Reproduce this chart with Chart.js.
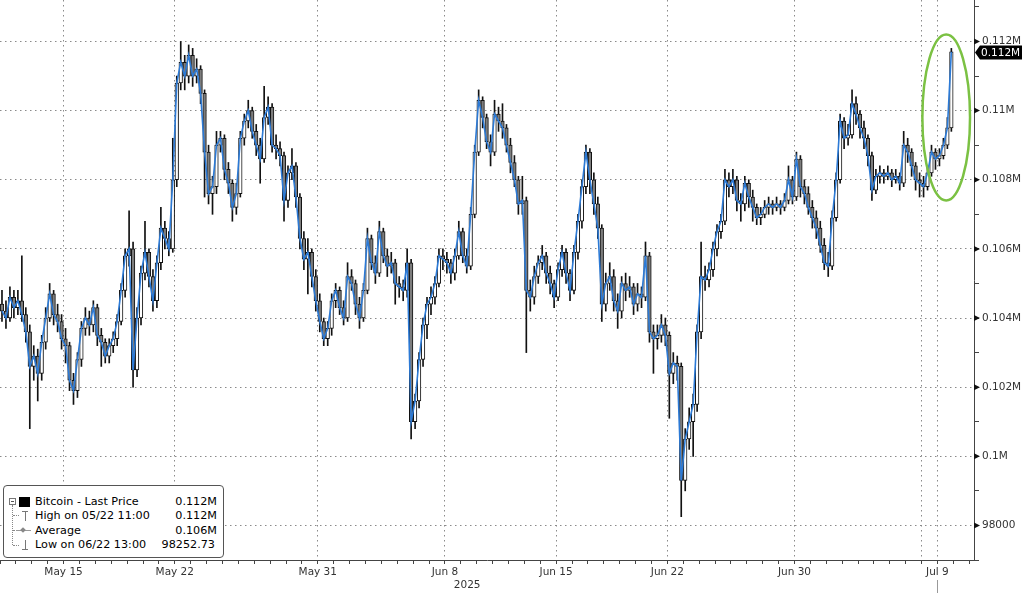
<!DOCTYPE html>
<html>
<head>
<meta charset="utf-8">
<script src="https://cdn.jsdelivr.net/npm/chart.js@4.4.1/dist/chart.umd.min.js"></script>
<style>
  html, body { margin: 0; padding: 0; background: #fff; }
  #wrap { position: relative; width: 1024px; height: 593px; overflow: hidden; font-family: "DejaVu Sans", sans-serif; }
  #chart { position: absolute; left: 0; top: 0; }
  .legend { position: absolute; left: 3px; top: 485px; width: 219px; height: 71px; border: 1px solid #555; border-radius: 4px; background: #fff; font-size: 11.2px; color: #000; }
  .row { position: absolute; left: 0; width: 100%; height: 14px; line-height: 14px; white-space: nowrap; }
  .row .lbl { position: absolute; left: 31px; }
  .row .val { position: absolute; right: 6px; }
  .minus { position: absolute; left: 5px; top: 12px; width: 5px; height: 5px; border: 1px solid #777; }
  .minus::after { content: ""; position: absolute; left: 1px; top: 2px; width: 3px; height: 1px; background: #555; }
  .sq { position: absolute; left: 15px; top: 11px; width: 11px; height: 10px; background: #000; }
  .tree { position: absolute; left: 8px; top: 19px; height: 40px; border-left: 1px dotted #888; }
  .stub { position: absolute; left: 9px; width: 6px; border-top: 1px dotted #888; }
  .tee { position: absolute; left: 18px; width: 6px; height: 10px; }
  .tee::before { content: ""; position: absolute; left: 0; width: 6px; height: 1px; background: #777; }
  .tee::after { content: ""; position: absolute; left: 2.5px; top: 0; width: 1px; height: 10px; background: #777; }
  .tee.up::before { top: 0; }
  .tee.down::before { bottom: 0; }
  .avg { position: absolute; left: 12px; top: 44px; width: 15px; height: 1px; background: #999; }
  .avg::after { content: ""; position: absolute; left: 5px; top: -2px; width: 4px; height: 4px; background: #888; transform: rotate(45deg); }
</style>
</head>
<body>
<div id="wrap">
  <canvas id="chart" width="1024" height="593"></canvas>
  <div class="legend">
    <div class="minus"></div>
    <div class="sq"></div>
    <div class="tree"></div>
    <div class="stub" style="top:29px"></div>
    <div class="stub" style="top:44px"></div>
    <div class="stub" style="top:59px"></div>
    <div class="tee up" style="top:25px"></div>
    <div class="avg"></div>
    <div class="tee down" style="top:54px"></div>
    <div class="row" style="top:9px"><span class="lbl">Bitcoin - Last Price</span><span class="val">0.112M</span></div>
    <div class="row" style="top:23px"><span class="lbl">High on 05/22 11:00</span><span class="val">0.112M</span></div>
    <div class="row" style="top:38px"><span class="lbl">Average</span><span class="val">0.106M</span></div>
    <div class="row" style="top:52px"><span class="lbl">Low on 06/22 13:00</span><span class="val" style="right:8px">98252.73</span></div>
  </div>
</div>
<script>
// 6-hour bars starting May 11 00:00, prices in thousands USD
const barHours = 6;
const firstOpenK = 104.4;
const closeK = [
  104.2,104.0,104.6,104.3,104.5,104.1,103.6,102.6,102.9,102.4,
  103.3,104.0,104.7,104.1,103.9,103.4,103.2,102.2,101.9,102.8,
  103.7,104.0,103.8,104.3,103.5,103.3,102.9,103.2,103.4,103.9,
  104.8,105.8,106.0,102.5,104.0,105.3,105.9,105.2,104.5,105.6,
  106.6,106.3,106.0,108.0,110.8,111.4,111.0,111.6,111.0,111.2,
  110.5,108.8,107.6,107.8,109.0,109.2,108.3,107.9,107.2,107.6,
  109.2,109.7,110.0,109.4,109.0,108.6,109.8,110.1,109.0,108.9,
  108.7,107.4,108.2,108.4,107.5,106.3,105.7,105.9,105.2,104.5,
  103.9,103.4,103.7,104.5,104.8,104.3,104.0,105.2,105.0,104.4,
  104.0,104.8,106.3,105.6,105.3,106.5,105.8,105.5,105.6,105.0,
  104.9,104.8,105.6,101.0,101.6,102.8,103.8,104.4,104.6,105.0,
  105.8,105.7,105.6,105.3,105.8,106.5,105.8,105.5,107.0,108.8,
  110.3,109.8,109.1,108.8,109.9,109.7,109.5,109.0,108.5,108.0,
  107.3,107.4,104.8,104.6,105.2,105.6,105.8,105.3,105.0,104.6,
  105.4,105.9,105.3,104.8,105.9,106.8,107.8,108.8,108.0,107.3,
  106.6,104.4,105.0,105.2,104.5,104.2,105.0,104.8,104.9,104.4,
  104.7,104.6,105.8,103.6,103.4,103.5,103.8,103.5,102.4,102.7,
  102.6,99.3,100.5,101.0,101.5,103.6,105.2,105.1,105.4,106.0,
  106.5,106.8,108.0,107.8,108.0,107.4,107.3,107.9,107.5,107.2,
  106.9,107.0,107.2,107.3,107.2,107.3,107.2,107.4,108.0,107.5,
  108.6,107.8,107.6,107.2,106.9,106.6,106.1,105.6,105.5,106.9,
  108.0,109.7,109.2,109.3,110.2,109.9,109.5,109.2,108.7,107.7,
  108.1,108.2,108.1,108.2,108.0,108.1,107.9,109.0,108.8,108.4,
  108.0,107.9,107.8,108.2,108.8,108.6,108.7,109.0,109.5,111.7
];
const highK = [
  104.8,104.5,104.9,104.8,104.8,105.8,104.3,103.8,103.2,103.1,
  103.5,104.3,105.0,104.8,104.4,104.1,103.7,103.3,102.4,103.0,
  103.9,104.3,104.2,104.5,104.4,103.7,103.4,103.4,103.6,104.1,
  105.0,106.0,107.1,106.2,104.3,105.5,106.8,106.0,105.4,105.8,
  107.2,106.8,106.5,109.2,111.0,112.0,111.6,111.9,111.8,111.5,
  111.3,110.6,109.0,108.1,109.4,109.4,109.3,108.5,108.0,107.9,
  109.4,109.9,110.3,110.1,109.6,109.2,110.7,110.4,110.2,109.3,
  109.1,108.8,108.4,108.9,108.5,107.6,106.5,106.3,106.0,105.4,
  104.7,104.0,103.9,104.7,105.0,104.9,104.5,105.6,105.4,105.1,
  104.6,105.0,106.6,106.4,105.8,106.8,106.6,106.0,105.9,105.7,
  105.2,105.1,106.0,105.7,101.8,103.0,104.0,104.6,104.9,105.2,
  106.0,106.0,105.9,105.7,106.0,106.8,106.6,106.0,107.2,109.0,
  110.6,110.4,109.9,109.3,110.3,110.1,110.2,109.6,109.2,108.7,
  108.1,108.1,107.5,105.1,105.5,105.8,106.1,105.9,105.5,105.1,
  105.6,106.1,106.0,105.4,106.1,107.0,108.0,109.0,108.9,108.2,
  107.5,106.7,105.3,105.6,105.4,104.7,105.2,105.3,105.2,105.0,
  105.0,104.9,106.2,105.9,103.8,103.8,104.1,104.0,103.6,103.0,
  102.9,102.7,100.8,101.4,101.8,103.8,106.2,105.5,105.6,106.2,
  106.7,107.0,108.3,108.2,108.3,108.1,107.6,108.1,108.0,107.7,
  107.3,107.2,107.4,107.5,107.4,107.5,107.4,107.6,108.4,108.1,
  108.8,108.7,108.0,107.8,107.4,107.1,106.8,106.3,105.9,107.1,
  108.2,109.9,109.8,109.6,110.6,110.4,110.0,109.7,109.3,108.8,
  108.3,108.4,108.3,108.4,108.3,108.3,108.2,109.4,109.2,108.9,
  108.5,108.2,108.1,108.4,109.0,108.9,108.9,109.2,109.8,111.8
];
const lowK = [
  103.9,103.7,103.9,104.0,104.1,103.9,103.3,100.8,102.2,101.6,
  102.2,103.1,103.9,103.8,103.6,103.1,102.7,101.9,101.5,101.7,
  102.6,103.5,103.5,103.6,103.2,102.6,102.7,102.7,103.0,103.2,
  103.8,104.6,105.5,102.0,102.3,103.8,105.1,104.9,104.2,104.3,
  105.4,106.0,105.8,105.9,107.8,110.6,110.6,110.8,110.7,110.8,
  110.2,107.5,107.3,107.0,107.6,108.8,108.0,107.6,106.8,107.0,
  107.5,109.0,109.5,109.2,108.7,107.9,108.5,109.6,108.8,108.6,
  108.4,106.8,107.2,108.0,107.2,106.0,105.4,104.7,104.9,104.2,
  103.6,103.2,103.2,103.5,104.3,104.1,103.8,103.9,104.8,104.1,
  103.7,103.9,104.7,105.4,105.0,105.2,105.6,105.2,105.3,104.4,
  104.6,104.5,104.6,100.5,100.8,101.4,102.6,103.4,104.1,104.4,
  104.9,105.4,105.3,105.0,105.1,105.7,105.6,105.3,105.4,106.9,
  108.7,109.5,108.9,108.4,108.7,109.4,109.2,108.8,108.2,107.8,
  107.0,107.0,103.0,104.2,104.4,105.0,105.4,105.0,104.7,104.3,
  104.5,105.2,105.0,104.5,104.7,105.7,106.6,107.6,107.6,107.0,
  106.3,103.9,104.2,104.8,104.2,103.7,104.0,104.5,104.6,104.1,
  104.2,104.3,104.5,103.3,102.4,103.1,103.3,103.2,101.1,102.1,
  102.2,98.253,99.0,100.2,100.0,101.3,103.4,104.8,104.9,105.2,
  105.8,106.3,106.7,107.5,107.6,107.1,106.8,107.1,107.2,106.8,
  106.7,106.7,106.9,107.0,107.0,107.1,107.0,107.1,107.3,107.3,
  107.4,107.5,107.3,107.0,106.6,106.3,105.9,105.4,105.2,105.4,
  106.8,107.9,108.9,109.0,109.2,109.6,109.2,108.9,108.4,107.4,
  107.6,107.9,107.9,108.0,107.8,107.9,107.7,107.8,108.5,108.1,
  107.7,107.5,107.5,107.7,108.1,108.3,108.4,108.6,108.9,109.4
];

// x axis: days since May 11
const tickDays = [4, 11, 20, 28, 35, 42, 50, 59];
const tickLabels = ['May 15', 'May 22', 'May 31', 'Jun 8', 'Jun 15', 'Jun 22', 'Jun 30', 'Jul 9'];
const gridDays = [4, 11, 20, 28, 35, 42, 50, 58, 59];
const dayMax = 61.3;
const yearLabel = '2025';
const yearLabelDay = 29.4;

// y axis
const yMin = 97000;
const yMax = 113200;
const yStep = 1000;
const yLabelStep = 2000;

// circled area (annotation)
const ringDay = [58.05, 61.05];
const ringPrice = [107400, 112200];

const FONT = '"DejaVu Sans", sans-serif';
Chart.defaults.font.family = FONT;

const fmtPrice = v => v >= 100000 ? (v / 1e6) + 'M' : String(v);
const dayOf = i => (i + 0.5) * barHours / 24;
const opens = closeK.map((c, i) => i === 0 ? firstOpenK : closeK[i - 1]);

const lineData = closeK.map((c, i) => ({ x: dayOf(i), y: c * 1000 }));
const bodyData = closeK.map((c, i) => ({ x: dayOf(i), y: [opens[i] * 1000, c * 1000] }));
const wickData = closeK.map((c, i) => ({ x: dayOf(i), y: [lowK[i] * 1000, highK[i] * 1000] }));
const bodyFill = closeK.map((c, i) => c >= opens[i] ? '#ffffff' : '#7d7d7d');

const overlay = {
  id: 'overlay',
  afterDraw(chart) {
    const { ctx, chartArea: a, scales: { x, y } } = chart;
    ctx.save();

    // arrow markers on labelled y ticks
    ctx.fillStyle = '#111';
    y.ticks.forEach(t => {
      if (t.value % yLabelStep) return;
      const py = y.getPixelForValue(t.value);
      ctx.beginPath();
      ctx.moveTo(a.right, py - 3);
      ctx.lineTo(a.right + 6, py);
      ctx.lineTo(a.right, py + 3);
      ctx.closePath();
      ctx.fill();
    });

    // last price tag
    const last = closeK[closeK.length - 1] * 1000;
    const py = Math.round(y.getPixelForValue(last)) + 0.5;
    ctx.fillStyle = '#000';
    ctx.beginPath();
    ctx.moveTo(a.right + 1, py);
    ctx.lineTo(a.right + 6, py - 7);
    ctx.lineTo(1022, py - 7);
    ctx.lineTo(1022, py + 7);
    ctx.lineTo(a.right + 6, py + 7);
    ctx.closePath();
    ctx.fill();
    ctx.fillStyle = '#fff';
    ctx.font = '10.5px ' + FONT;
    ctx.textBaseline = 'middle';
    ctx.textAlign = 'left';
    ctx.fillText((last / 1e6).toFixed(3) + 'M', a.right + 7, py + 0.5);

    // year under the date axis
    ctx.fillStyle = '#333';
    ctx.textAlign = 'center';
    ctx.fillText(yearLabel, x.getPixelForValue(yearLabelDay), a.bottom + 25);

    // today marker below axis
    ctx.strokeStyle = '#999';
    ctx.lineWidth = 1;
    const jx = Math.round(x.getPixelForValue(tickDays[tickDays.length - 1])) + 0.5;
    ctx.beginPath();
    ctx.moveTo(jx, a.bottom + 20);
    ctx.lineTo(jx, chart.height);
    ctx.stroke();

    // green ring
    const x0 = x.getPixelForValue(ringDay[0]), x1 = x.getPixelForValue(ringDay[1]);
    const y0 = y.getPixelForValue(ringPrice[1]), y1 = y.getPixelForValue(ringPrice[0]);
    ctx.strokeStyle = '#7bc143';
    ctx.lineWidth = 2.5;
    ctx.beginPath();
    ctx.ellipse((x0 + x1) / 2, (y0 + y1) / 2, (x1 - x0) / 2, (y1 - y0) / 2, 0, 0, Math.PI * 2);
    ctx.stroke();
    ctx.restore();
  }
};

new Chart(document.getElementById('chart').getContext('2d'), {
  type: 'bar',
  data: {
    datasets: [
      { type: 'line', data: lineData, borderColor: '#2c7ad6', borderWidth: 1.6, pointRadius: 0, tension: 0, order: 0 },
      { type: 'bar', data: bodyData, backgroundColor: bodyFill, borderColor: '#111', borderWidth: 1,
        borderSkipped: false, barThickness: 3.6, minBarLength: 1, grouped: false, order: 1 },
      { type: 'bar', data: wickData, backgroundColor: '#111', barThickness: 1, grouped: false, order: 2 }
    ]
  },
  options: {
    responsive: false,
    animation: false,
    layout: { padding: 0 },
    plugins: { legend: { display: false }, tooltip: { enabled: false } },
    scales: {
      x: {
        type: 'linear', min: 0, max: dayMax, offset: false,
        afterBuildTicks: s => { s.ticks = []; for (let d = 0; d <= Math.floor(dayMax); d++) s.ticks.push({ value: d }); },
        afterFit: s => { s.height = 33; s.paddingLeft = 0; s.paddingRight = 0; },
        ticks: {
          autoSkip: false, maxRotation: 0, padding: 2, color: '#333', font: { size: 10.5 },
          callback: v => { const k = tickDays.indexOf(v); return k >= 0 ? tickLabels[k] : ''; }
        },
        grid: {
          offset: false, lineWidth: 1, tickLength: 4, tickColor: '#444',
          color: c => (c.tick && gridDays.includes(c.tick.value)) ? '#8a8a8a' : 'rgba(0,0,0,0)'
        },
        border: { color: '#444', width: 1, dash: [1.5, 3.5] }
      },
      y: {
        position: 'right', min: yMin, max: yMax,
        afterBuildTicks: s => { s.ticks = []; for (let v = yMin; v <= yMax; v += yStep) s.ticks.push({ value: v }); },
        afterFit: s => { s.width = 50; s.paddingTop = 0; s.paddingBottom = 0; },
        ticks: {
          padding: 3, color: '#333', font: { size: 10.5 },
          callback: v => v % yLabelStep === 0 ? fmtPrice(v) : ''
        },
        grid: {
          lineWidth: 1, tickLength: 5, tickColor: '#444',
          color: c => (c.tick && c.tick.value % yLabelStep === 0) ? '#8a8a8a' : 'rgba(0,0,0,0)'
        },
        border: { color: '#444', width: 1, dash: [1.5, 3.5] }
      }
    }
  },
  plugins: [overlay]
});
</script>
</body>
</html>
